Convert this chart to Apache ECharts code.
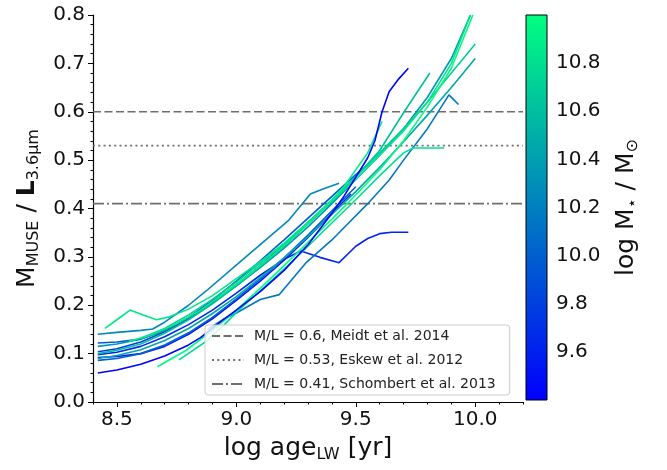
<!DOCTYPE html>
<html><head><meta charset="utf-8">
<script src="https://cdn.jsdelivr.net/npm/echarts@6/dist/echarts.min.js"></script>
<style>html,body{margin:0;padding:0;background:#fff}#c{width:667px;height:470px}</style>
</head><body><div id="c"></div>
<script>
// ---- axis ranges & ticks ----
const xMin = 8.4, xMax = 10.2, yMin = 0, yMax = 0.8;
const massMin = 9.4, massMax = 11.0;
const xTickValues = [8.5, 9.0, 9.5, 10.0];
const xMinorValues = [8.4, 8.6, 8.7, 8.8, 8.9, 9.1, 9.2, 9.3, 9.4, 9.6, 9.7, 9.8, 9.9, 10.1, 10.2];
const cbTickValues = [9.6, 9.8, 10.0, 10.2, 10.4, 10.6, 10.8];

// ---- reference M/L lines ----
const refValues = [0.6, 0.53, 0.41];
const refLabels = ['M/L = 0.6, Meidt et al. 2014', 'M/L = 0.53, Eskew et al. 2012', 'M/L = 0.41, Schombert et al. 2013'];

// ---- galaxy tracks: [log age, M/L] and galaxy log stellar mass ----
const track02 = [[8.42,0.098],[8.5,0.103],[8.6,0.115],[8.7,0.135],[8.8,0.16],[8.9,0.19],[9.0,0.225],[9.1,0.262],[9.2,0.295],[9.27,0.312],[9.35,0.299],[9.43,0.288],[9.5,0.322],[9.55,0.338],[9.6,0.348],[9.65,0.351],[9.72,0.351]];
const track03 = [[8.42,0.092],[8.5,0.094],[8.6,0.1],[8.7,0.115],[8.8,0.14],[8.9,0.172],[9.0,0.21],[9.1,0.25],[9.2,0.293],[9.3,0.34],[9.4,0.39],[9.48,0.43]];
const track04 = [[8.42,0.104],[8.5,0.11],[8.6,0.124],[8.7,0.145],[8.8,0.172],[8.9,0.205],[9.0,0.242],[9.1,0.282],[9.2,0.325],[9.3,0.37],[9.4,0.415],[9.46,0.44]];
const track05 = [[8.42,0.086],[8.5,0.09],[8.6,0.1],[8.7,0.118],[8.8,0.143],[8.9,0.175],[9.0,0.213],[9.1,0.254],[9.2,0.298],[9.3,0.345],[9.4,0.395],[9.5,0.445]];
const track06 = [[8.42,0.122],[8.5,0.124],[8.6,0.13],[8.7,0.148],[8.8,0.175],[8.9,0.21],[9.0,0.25],[9.1,0.292],[9.2,0.335],[9.3,0.38],[9.4,0.425],[9.5,0.47],[9.55,0.49]];
const track07 = [[8.88,0.15],[8.95,0.172],[9.0,0.184],[9.1,0.212],[9.18,0.222],[9.29,0.287],[9.4,0.335],[9.47,0.37],[9.55,0.41],[9.64,0.459],[9.7,0.5],[9.8,0.565],[9.89,0.635],[9.93,0.615]];
const track08 = [[8.42,0.14],[8.5,0.144],[8.6,0.148],[8.65,0.151],[8.7,0.165],[8.8,0.2],[8.875,0.23],[9.04,0.3],[9.22,0.376],[9.31,0.43],[9.36,0.44],[9.43,0.452]];
const track09 = [[8.42,0.115],[8.5,0.12],[8.6,0.13],[8.7,0.148],[8.8,0.175],[8.9,0.205],[9.0,0.24],[9.1,0.278],[9.2,0.318],[9.3,0.362],[9.4,0.41],[9.5,0.46],[9.6,0.51],[9.7,0.565],[9.8,0.63],[9.9,0.71],[9.98,0.8]];
const track10 = [[8.42,0.09],[8.5,0.096],[8.6,0.108],[8.7,0.127],[8.8,0.152],[8.9,0.183],[9.0,0.218],[9.1,0.257],[9.2,0.298],[9.3,0.342],[9.4,0.388],[9.5,0.435],[9.6,0.485],[9.7,0.538],[9.8,0.593],[9.9,0.65],[10.0,0.71]];
const track11 = [[8.42,0.1],[8.5,0.107],[8.6,0.12],[8.7,0.142],[8.8,0.17],[8.9,0.203],[9.0,0.24],[9.1,0.28],[9.2,0.322],[9.3,0.368],[9.4,0.415],[9.5,0.465],[9.6,0.52],[9.7,0.598],[9.81,0.68]];
const track12 = [[8.6,0.132],[8.7,0.152],[8.8,0.18],[8.9,0.212],[9.0,0.248],[9.1,0.287],[9.2,0.328],[9.3,0.372],[9.4,0.418],[9.5,0.466],[9.6,0.515],[9.7,0.565],[9.8,0.62],[9.9,0.68],[10.0,0.74]];
const track13 = [[8.76,0.087],[8.87,0.124],[8.95,0.16],[9.0,0.185],[9.1,0.23],[9.2,0.275],[9.3,0.322],[9.4,0.37],[9.5,0.418],[9.6,0.468],[9.7,0.515],[9.74,0.525],[9.87,0.525]];
const track14 = [[8.45,0.152],[8.5,0.17],[8.555,0.19],[8.61,0.18],[8.666,0.17],[8.72,0.176],[8.8,0.192],[8.9,0.22],[9.0,0.255],[9.1,0.29],[9.2,0.328],[9.3,0.37],[9.4,0.415],[9.5,0.46],[9.6,0.51],[9.7,0.56],[9.8,0.62],[9.9,0.7],[9.98,0.8]];
const track15 = [[8.55,0.125],[8.65,0.14],[8.75,0.162],[8.85,0.19],[8.95,0.225],[9.05,0.262],[9.15,0.302],[9.25,0.345],[9.35,0.392],[9.45,0.445],[9.55,0.515],[9.61,0.58]];
const track16 = [[8.67,0.073],[8.79,0.107],[8.9,0.148],[9.0,0.19],[9.1,0.235],[9.2,0.282],[9.3,0.33],[9.4,0.378],[9.5,0.428],[9.6,0.48],[9.7,0.54],[9.8,0.61],[9.9,0.69],[9.99,0.8]];
const track01 = [[8.42,0.06],[8.5,0.066],[8.6,0.078],[8.7,0.095],[8.8,0.118],[8.85,0.133],[8.94,0.168],[9.0,0.19],[9.1,0.228],[9.2,0.272],[9.3,0.325],[9.4,0.39],[9.45,0.425],[9.5,0.465],[9.55,0.505],[9.58,0.54],[9.61,0.6],[9.64,0.642],[9.68,0.668],[9.72,0.69]];

const tracks = [track02, track03, track04, track05, track06, track07, track08, track09, track10, track11, track12, track13, track14, track15, track16, track01];
const trackMasses = [9.65, 9.55, 9.8, 10.0, 9.95, 10.15, 10.25, 10.35, 10.45, 10.6, 10.7, 10.8, 10.85, 10.9, 10.98, 9.42];

// matplotlib "winter" colormap
function winter(m) {
  const t = Math.max(0, Math.min(1, (m - massMin) / (massMax - massMin)));
  const g = Math.round(255 * t), b = Math.round(255 * (1 - 0.5 * t));
  return 'rgb(0,' + g + ',' + b + ')';
}

const FONT = 'DejaVu Sans';
const chart = echarts.init(document.getElementById('c'), null, {renderer: 'canvas'});

const series = [];
tracks.forEach((tr, i) => {
  series.push({
    type: 'line', xAxisIndex: 0, yAxisIndex: 0, data: tr,
    showSymbol: false, symbol: 'none', silent: true, z: 3,
    lineStyle: {color: winter(trackMasses[i]), width: 1.6}
  });
});
const refTypes = [[8, 3.5], [2, 3.3], [11, 3, 2, 3]];
refValues.forEach((v, i) => {
  series.push({
    name: refLabels[i], type: 'line', xAxisIndex: 0, yAxisIndex: 0,
    data: [[xMin, v], [xMax, v]], symbol: 'none', showSymbol: false, silent: true, z: 2,
    lineStyle: {color: '#6e6e6e', width: 1.6, type: refTypes[i]},
    itemStyle: {color: '#6e6e6e', opacity: 0}
  });
});
// colour bar
series.push({
  type: 'custom', xAxisIndex: 2, yAxisIndex: 1, silent: true,
  data: [[0, massMin, massMax]],
  renderItem: function (params, api) {
    const p0 = api.coord([api.value(0), api.value(1)]);
    const p1 = api.coord([api.value(0), api.value(2)]);
    const w = api.size([1, 0])[0];
    return {
      type: 'rect',
      shape: {x: p0[0] - w / 2, y: p1[1], width: w, height: p0[1] - p1[1]},
      style: {
        fill: new echarts.graphic.LinearGradient(0, 1, 0, 0, [
          {offset: 0, color: winter(massMin)}, {offset: 1, color: winter(massMax)}
        ]),
        stroke: '#000', lineWidth: 1
      }
    };
  }
});

const option = {
  backgroundColor: '#fff',
  animation: false,
  textStyle: {fontFamily: FONT},
  grid: [
    {left: 93, right: 144, top: 15, bottom: 68},
    {left: 526, width: 21, top: 15, bottom: 70}
  ],
  legend: {
    data: refLabels,
    orient: 'vertical', left: 205, top: 325,
    itemWidth: 32, itemHeight: 14, itemGap: 8,
    padding: [3, 14, 3, 6],
    backgroundColor: 'rgba(255,255,255,0.8)',
    borderColor: '#cccccc', borderWidth: 1, borderRadius: 3,
    itemStyle: {opacity: 0, borderWidth: 0},
    lineStyle: {opacity: 1},
    textStyle: {fontFamily: FONT, fontSize: 14, color: '#222', lineHeight: 16, padding: [0, 0, 0, 5]},
    selectedMode: false
  },
  xAxis: [
    {
      type: 'value', gridIndex: 0, min: xMin, max: xMax, position: 'bottom',
      splitLine: {show: false},
      axisLine: {onZero: false, lineStyle: {color: '#000', width: 1.2}},
      axisTick: {customValues: xTickValues, length: 5, lineStyle: {color: '#000', width: 1}},
      axisLabel: {customValues: xTickValues, formatter: v => v.toFixed(1), fontSize: 20, color: '#111', margin: 8, fontFamily: FONT},
      name: '{a|log age}{s|LW}{a| [yr]}', nameLocation: 'middle', nameGap: 31,
      nameTextStyle: {color: '#111', rich: {
        a: {fontFamily: FONT, fontSize: 25, lineHeight: 30, color: '#111'},
        s: {fontFamily: FONT, fontSize: 16, lineHeight: 13, verticalAlign: 'bottom', color: '#111'}
      }}
    },
    {
      type: 'value', gridIndex: 0, min: xMin, max: xMax, position: 'bottom',
      splitLine: {show: false}, axisLine: {show: false, onZero: false},
      axisTick: {customValues: xMinorValues, length: 2.5, lineStyle: {color: '#000', width: 1}},
      axisLabel: {show: false}
    },
    {
      type: 'category', gridIndex: 1, data: ['cb'], show: false, boundaryGap: true
    }
  ],
  yAxis: [
    {
      type: 'value', gridIndex: 0, min: yMin, max: yMax, interval: 0.1,
      splitLine: {show: false},
      axisLine: {show: true, lineStyle: {color: '#000', width: 1.2}},
      axisTick: {show: true, length: 5, lineStyle: {color: '#000', width: 1}},
      minorTick: {show: true, splitNumber: 5, length: 2.5, lineStyle: {color: '#000', width: 1}},
      axisLabel: {formatter: v => v.toFixed(1), fontSize: 20, color: '#111', margin: 8, fontFamily: FONT},
      name: '{m|M}{s|MUSE}{m| / }{b|L}{s|3.6μm}', nameLocation: 'middle', nameGap: 44, nameRotate: 90,
      nameTextStyle: {color: '#111', rich: {
        m: {fontFamily: FONT, fontSize: 25, lineHeight: 30, color: '#111'},
        b: {fontFamily: FONT, fontSize: 25, lineHeight: 30, fontWeight: 'bold', color: '#111'},
        s: {fontFamily: FONT, fontSize: 16, lineHeight: 13, verticalAlign: 'bottom', color: '#111'}
      }}
    },
    {
      type: 'value', gridIndex: 1, min: massMin, max: massMax, position: 'right',
      splitLine: {show: false},
      axisLine: {show: false},
      axisTick: {customValues: cbTickValues, length: 4, lineStyle: {color: '#000', width: 1}},
      axisLabel: {customValues: cbTickValues, formatter: v => v.toFixed(1), fontSize: 20, color: '#111', margin: 9, fontFamily: FONT},
      name: '{m|log M}{s|⋆}{m| / M}{s|⊙}', nameLocation: 'middle', nameGap: 64, nameRotate: 90,
      nameTextStyle: {color: '#111', rich: {
        m: {fontFamily: FONT, fontSize: 25, lineHeight: 30, color: '#111'},
        s: {fontFamily: FONT, fontSize: 16, lineHeight: 13, verticalAlign: 'bottom', color: '#111'}
      }}
    }
  ],
  series: series
};
chart.setOption(option);
</script>
</body></html>
